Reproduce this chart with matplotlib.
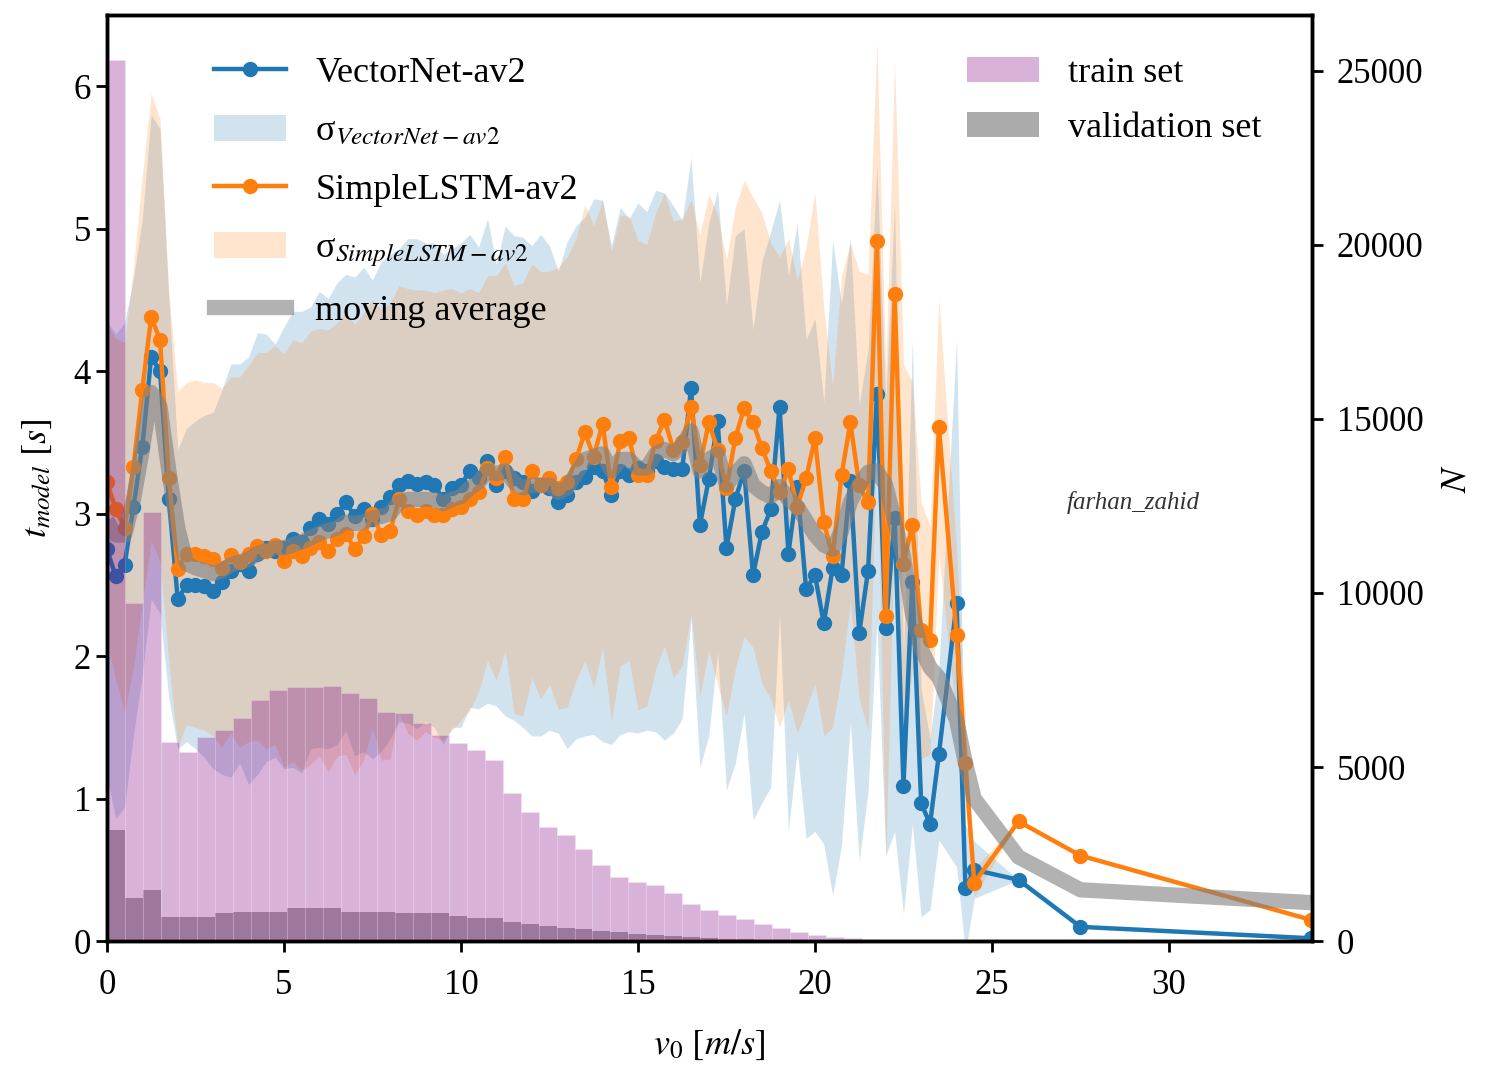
import numpy as np
import matplotlib
matplotlib.use("Agg")
import matplotlib.pyplot as plt
import matplotlib.patches as mpatches
from matplotlib.lines import Line2D

plt.rcParams['font.family'] = ['Liberation Serif', 'DejaVu Serif']
plt.rcParams['mathtext.fontset'] = 'stix'

# speed bins (m/s) where the models were evaluated
v0 = [0.0, 0.25, 0.5, 0.75, 1.0, 1.25, 1.5, 1.75,
      2.0, 2.25, 2.5, 2.75, 3.0, 3.25, 3.5, 3.75,
      4.0, 4.25, 4.5, 4.75, 5.0, 5.25, 5.5, 5.75,
      6.0, 6.25, 6.5, 6.75, 7.0, 7.25, 7.5, 7.75,
      8.0, 8.25, 8.5, 8.75, 9.0, 9.25, 9.5, 9.75,
      10.0, 10.25, 10.5, 10.75, 11.0, 11.25, 11.5, 11.75,
      12.0, 12.25, 12.5, 12.75, 13.0, 13.25, 13.5, 13.75,
      14.0, 14.25, 14.5, 14.75, 15.0, 15.25, 15.5, 15.75,
      16.0, 16.25, 16.5, 16.75, 17.0, 17.25, 17.5, 17.75,
      18.0, 18.25, 18.5, 18.75, 19.0, 19.25, 19.5, 19.75,
      20.0, 20.25, 20.5, 20.75, 21.0, 21.25, 21.5, 21.75,
      22.0, 22.25, 22.5, 22.75, 23.0, 23.25, 23.5,
      24.0, 24.25, 24.5, 25.75, 27.5, 34.0]

vectornet = [2.75, 2.56, 2.64, 3.05, 3.47, 4.10, 4.00, 3.10,
             2.40, 2.50, 2.50, 2.49, 2.46, 2.52, 2.60, 2.65,
             2.60, 2.72, 2.76, 2.74, 2.76, 2.82, 2.80, 2.90,
             2.96, 2.93, 3.00, 3.08, 2.98, 3.03, 2.96, 3.05,
             3.12, 3.20, 3.23, 3.21, 3.22, 3.20, 3.10, 3.18,
             3.20, 3.30, 3.25, 3.37, 3.20, 3.30, 3.25, 3.22,
             3.16, 3.20, 3.18, 3.08, 3.13, 3.22, 3.26, 3.33,
             3.30, 3.13, 3.30, 3.27, 3.32, 3.30, 3.37, 3.33,
             3.31, 3.31, 3.88, 2.92, 3.24, 3.65, 2.76, 3.10,
             3.30, 2.57, 2.87, 3.03, 3.75, 2.72, 3.19, 2.47,
             2.57, 2.23, 2.62, 2.57, 3.23, 2.16, 2.60, 3.84,
             2.20, 2.97, 1.09, 2.52, 0.97, 0.82, 1.31,
             2.37, 0.37, 0.50, 0.43, 0.10, 0.02]

simplelstm = [3.22, 3.03, 2.90, 3.33, 3.87, 4.38, 4.22, 3.25,
              2.61, 2.72, 2.72, 2.70, 2.68, 2.62, 2.71, 2.66,
              2.72, 2.77, 2.74, 2.78, 2.67, 2.74, 2.70, 2.76,
              2.80, 2.74, 2.82, 2.86, 2.75, 2.84, 3.00, 2.85,
              2.88, 3.10, 3.02, 2.99, 3.02, 2.99, 2.99, 3.03,
              3.05, 3.10, 3.15, 3.32, 3.25, 3.40, 3.10, 3.10,
              3.30, 3.20, 3.25, 3.18, 3.22, 3.38, 3.57, 3.40,
              3.63, 3.19, 3.51, 3.53, 3.27, 3.27, 3.51, 3.66,
              3.45, 3.50, 3.75, 3.34, 3.64, 3.45, 3.18, 3.53,
              3.74, 3.64, 3.46, 3.30, 3.15, 3.31, 3.05, 3.25,
              3.53, 2.94, 2.70, 3.27, 3.64, 3.20, 3.08, 4.91,
              2.28, 4.54, 2.65, 2.92, 2.18, 2.11, 3.61,
              2.15, 1.25, 0.41, 0.84, 0.60, 0.15]

std_vectornet = [1.60, 1.70, 1.70, 1.60, 1.60, 1.70, 1.70, 1.40,
                 1.05, 1.10, 1.15, 1.20, 1.25, 1.35, 1.45, 1.40,
                 1.50, 1.55, 1.50, 1.45, 1.55, 1.60, 1.62, 1.55,
                 1.60, 1.58, 1.62, 1.60, 1.68, 1.70, 1.68, 1.72,
                 1.70, 1.66, 1.70, 1.72, 1.68, 1.70, 1.72, 1.68,
                 1.70, 1.66, 1.62, 1.70, 1.55, 1.72, 1.70, 1.72,
                 1.72, 1.76, 1.70, 1.62, 1.78, 1.80, 1.82, 1.88,
                 1.90, 1.75, 1.85, 1.80, 1.86, 1.82, 1.90, 1.92,
                 1.85, 1.75, 1.62, 1.70, 1.80, 1.62, 1.70, 1.85,
                 1.70, 1.72, 1.90, 1.95, 1.45, 1.95, 1.85, 1.75,
                 1.80, 1.55, 2.30, 1.90, 1.70, 1.60, 1.55, 1.60,
                 1.60, 2.20, 0.90, 1.70, 0.80, 0.60, 0.60,
                 1.85, 0.45, 0.20, 0.0, 0.0, 0.0]

std_simplelstm = [1.10, 1.20, 1.30, 1.40, 1.50, 1.57, 1.55, 1.30,
                  1.25, 1.20, 1.22, 1.22, 1.24, 1.26, 1.25, 1.30,
                  1.32, 1.36, 1.39, 1.40, 1.45, 1.48, 1.50, 1.52,
                  1.50, 1.55, 1.52, 1.55, 1.58, 1.57, 1.50, 1.58,
                  1.60, 1.50, 1.56, 1.58, 1.55, 1.56, 1.58, 1.55,
                  1.50, 1.48, 1.40, 1.35, 1.42, 1.36, 1.50, 1.52,
                  1.45, 1.50, 1.45, 1.55, 1.58, 1.55, 1.60, 1.62,
                  1.57, 1.65, 1.58, 1.56, 1.65, 1.62, 1.60, 1.59,
                  1.60, 1.57, 1.45, 1.62, 1.60, 1.65, 1.60, 1.62,
                  1.60, 1.58, 1.65, 1.60, 1.65, 1.62, 1.59, 1.62,
                  1.72, 1.50, 1.20, 1.40, 1.26, 1.50, 1.60, 1.40,
                  1.70, 1.63, 1.40, 1.00, 0.90, 0.80, 0.90,
                  0.60, 0.30, 0.10, 0.0, 0.0, 0.0]

moving_avg = [2.95, 2.85, 2.85, 3.10, 3.45, 3.85, 3.75, 3.30,
              2.90, 2.65, 2.62, 2.60, 2.58, 2.60, 2.64, 2.66,
              2.68, 2.72, 2.74, 2.76, 2.76, 2.78, 2.80, 2.83,
              2.86, 2.88, 2.90, 2.94, 2.93, 2.94, 2.97, 2.98,
              3.00, 3.08, 3.10, 3.10, 3.10, 3.10, 3.07, 3.10,
              3.12, 3.18, 3.22, 3.30, 3.28, 3.30, 3.22, 3.18,
              3.20, 3.20, 3.20, 3.15, 3.18, 3.28, 3.38, 3.40,
              3.42, 3.30, 3.38, 3.38, 3.32, 3.32, 3.42, 3.45,
              3.42, 3.48, 3.58, 3.30, 3.38, 3.42, 3.20, 3.28,
              3.35, 3.20, 3.15, 3.12, 3.19, 3.10, 3.05, 2.95,
              2.85, 2.78, 2.75, 2.88, 3.08, 3.20, 3.29, 3.30,
              3.20, 2.95, 2.70, 2.30, 2.05, 1.92, 1.85,
              1.55, 1.25, 1.00, 0.59, 0.36, 0.27]

# sample counts per speed bin (right axis)
bin_width = 0.508
train_counts = [25300, 9700, 12330, 5730, 5440, 5870, 6060, 6400, 6925, 7210,
                7290, 7290, 7330, 7120, 6970, 6590, 6550, 6250, 5920, 5680,
                5490, 5200, 4260, 3716, 3285, 3046, 2635, 2184, 1848, 1705,
                1609, 1370, 1063, 891, 747, 623, 489, 364, 268, 172,
                125, 80, 50, 30, 20, 12, 8, 5]
val_counts = [3190, 1240, 1470, 690, 700, 700, 795, 843, 843, 843,
              939, 939, 939, 824, 824, 843, 795, 795, 795, 718,
              651, 651, 556, 480, 440, 380, 340, 290, 250, 210,
              170, 140, 110, 90, 70, 55, 40, 30, 20, 15,
              10, 6, 4, 2, 1, 0, 0, 0]

x = np.array(v0)
vn = np.array(vectornet)
sl = np.array(simplelstm)
svn = np.array(std_vectornet)
ssl = np.array(std_simplelstm)

blue = '#1f77b4'
orange = '#ff7f0e'

fig = plt.figure(figsize=(14.85, 10.67), dpi=100)
ax = fig.add_axes([0.072, 0.118, 0.8115, 0.868])

ax.fill_between(x, vn - svn, vn + svn, color=blue, alpha=0.2, linewidth=0)
ax.fill_between(x, sl - ssl, sl + ssl, color=orange, alpha=0.2, linewidth=0)
ax.plot(x, vn, '-o', color=blue, lw=3.2, ms=10)
ax.plot(x, sl, '-o', color=orange, lw=3.2, ms=10)
ax.plot(x, moving_avg, color='grey', lw=11, alpha=0.6, solid_capstyle='butt')

ax.set_xlim(0, 34.04)
ax.set_ylim(0, 6.5)
ax.set_xlabel(r'$v_0\ [m/s]$', fontsize=26, labelpad=19)
ax.set_ylabel(r'$t_{model}\ [s]$', fontsize=26, labelpad=14)
ax.text(29.0, 3.08, 'farhan_zahid', fontsize=18, style='italic',
        ha='center', va='center', color='#333333')

ax2 = ax.twinx()
edges = np.arange(len(train_counts)) * bin_width
ax2.bar(edges, val_counts, width=bin_width, align='edge', color='grey',
        alpha=0.66, linewidth=0)
ax2.bar(edges, train_counts, width=bin_width, align='edge', color='purple',
        alpha=0.3, edgecolor='white', linewidth=0.4)
ax2.set_ylim(0, 26600)
ax2.set_ylabel(r'$N$', fontsize=26, labelpad=12)

for a in (ax, ax2):
    a.tick_params(labelsize=25, length=8, width=2)
    for s in a.spines.values():
        s.set_linewidth(2.5)
ax.tick_params(axis='x', pad=12)
ax2.tick_params(axis='y', pad=10)

h_left = [
    Line2D([], [], color=blue, lw=3.2, marker='o', ms=10),
    mpatches.Patch(color=blue, alpha=0.2, linewidth=0),
    Line2D([], [], color=orange, lw=3.2, marker='o', ms=10),
    mpatches.Patch(color=orange, alpha=0.2, linewidth=0),
    Line2D([], [], color='grey', lw=11, alpha=0.6),
]
l_left = ['VectorNet-av2', r'σ$_{VectorNet-av2}$', 'SimpleLSTM-av2',
          r'σ$_{SimpleLSTM-av2}$', 'moving average']
ax.legend(h_left, l_left, loc='upper left', bbox_to_anchor=(0.062, 0.99),
          frameon=False, fontsize=26, handlelength=2.0, labelspacing=0.7)

h_right = [mpatches.Patch(color='purple', alpha=0.3, linewidth=0),
           mpatches.Patch(color='grey', alpha=0.66, linewidth=0)]
ax2.legend(h_right, ['train set', 'validation set'], loc='upper right',
           bbox_to_anchor=(0.985, 0.99), frameon=False, fontsize=26,
           handlelength=2.0, labelspacing=0.6)

fig.savefig('out.png', dpi=100)
